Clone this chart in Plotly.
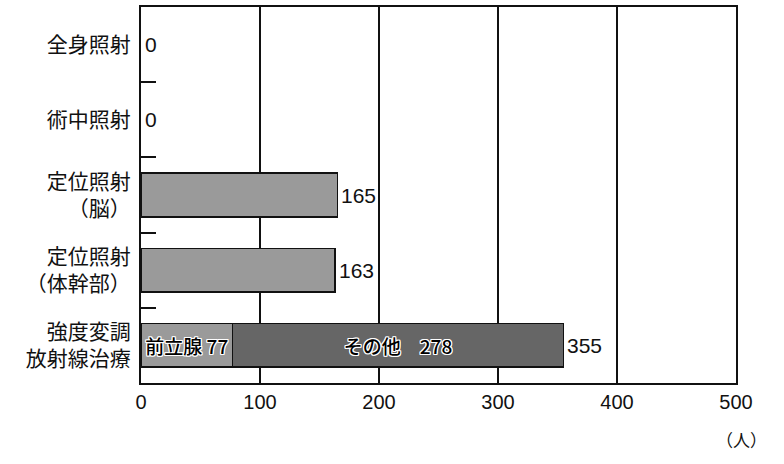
import plotly.graph_objects as go

categories = ["全身照射", "術中照射", "定位照射<br>（脳）", "定位照射<br>（体幹部）", "強度変調<br>放射線治療"]
light_values = [0, 0, 165, 163, 77]
dark_values = [0, 0, 0, 0, 278]
light_inside = ["", "", "", "", "前立腺 77"]
dark_inside = ["", "", "", "", "その他　278"]
totals = [a + b for a, b in zip(light_values, dark_values)]
x_ticks = [0, 100, 200, 300, 400, 500]

JP = "Noto Sans CJK JP, sans-serif"
NUM = "Liberation Sans, Arial, sans-serif"
NARROW = "Liberation Sans Narrow, Arial Narrow, Liberation Sans, sans-serif"
HALO = ("1px 1px 0 #fff, -1px -1px 0 #fff, 1px -1px 0 #fff, -1px 1px 0 #fff, "
        "0 1px 0 #fff, 0 -1px 0 #fff, 1px 0 0 #fff, -1px 0 0 #fff")

fig = go.Figure()
fig.add_trace(go.Bar(
    y=categories, x=light_values, orientation="h",
    marker=dict(color="#9a9a9a",
                line=dict(color="#111", width=[0 if v == 0 else 1.5 for v in light_values])),
    text=light_inside, textposition="inside", insidetextanchor="middle",
    textangle=0, constraintext="none",
    insidetextfont=dict(family=JP, size=19, color="#000", weight=500, shadow=HALO),
    hoverinfo="skip",
))
fig.add_trace(go.Bar(
    y=categories, x=dark_values, orientation="h",
    marker=dict(color="#666666",
                line=dict(color="#111", width=[0 if v == 0 else 1.5 for v in dark_values])),
    text=dark_inside, textposition="inside", insidetextanchor="middle",
    textangle=0, constraintext="none",
    insidetextfont=dict(family=JP, size=19, color="#000", weight=500, shadow=HALO),
    hoverinfo="skip",
))

annotations = [
    dict(text=str(t), x=t, y=c, xref="x", yref="y", xanchor="left", yanchor="middle",
         xshift=2, showarrow=False, font=dict(family=NUM, size=21, color="#111"))
    for c, t in zip(categories, totals)
]
annotations.append(dict(
    text="（人）", xref="x", x=500, yref="paper", y=-0.149,
    xanchor="center", yanchor="middle", xshift=5, showarrow=False,
    font=dict(family=JP, size=17, color="#111"),
))

fig.update_layout(
    width=784, height=464,
    margin=dict(l=141, r=48, t=5, b=81),
    barmode="stack", bargap=0.42, showlegend=False,
    plot_bgcolor="white", paper_bgcolor="white",
    xaxis=dict(
        range=[0, 500], tickvals=x_ticks, ticktext=[str(v) for v in x_ticks],
        showgrid=True, gridcolor="#111", gridwidth=1.5,
        showline=True, linecolor="#111", linewidth=2, mirror=True,
        zeroline=False, ticks="", ticklabelstandoff=0,
        tickfont=dict(family=NARROW, size=20, color="#111"),
    ),
    yaxis=dict(
        type="category", autorange="reversed",
        showline=True, linecolor="#111", linewidth=2, mirror=True,
        showgrid=False, ticks="inside", tickson="boundaries",
        ticklen=15, tickwidth=1.5, tickcolor="#111",
        ticklabelstandoff=4,
        tickfont=dict(family=JP, size=21, color="#111"),
    ),
    annotations=annotations,
)

fig.write_html("out.html", config={"displayModeBar": False},
               post_script="document.body.style.margin='0';")
